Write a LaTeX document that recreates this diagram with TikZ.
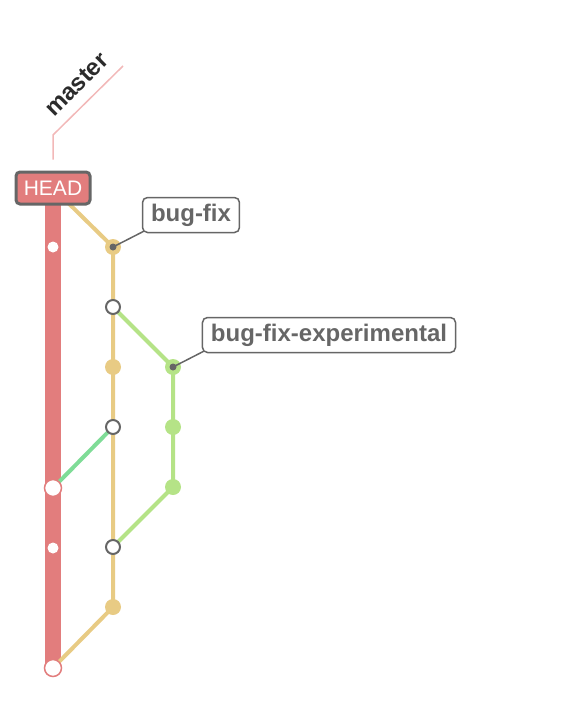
\documentclass[tikz,border=0pt]{standalone}
\usepackage{fontspec}
\setmainfont{Liberation Sans}
\usetikzlibrary{backgrounds}
\definecolor{masterred}{HTML}{E27D7D}
\definecolor{pinkline}{HTML}{F2B8B8}
\definecolor{fixyellow}{HTML}{E8CB84}
\definecolor{expgreen}{HTML}{B5E387}
\definecolor{mergegreen}{HTML}{7FDC97}
\definecolor{outline}{HTML}{666666}
\definecolor{labeltext}{HTML}{2B2B2B}
\tikzset{
  headbox/.style={draw=outline, line width=3pt, fill=masterred, rounded corners=4pt,
    text=white, font=\fontsize{21}{21}\selectfont, minimum width=74pt, minimum height=32pt, inner sep=0pt},
  tagbox/.style={draw=outline, line width=1.5pt, fill=white, rounded corners=5pt,
    text=outline, font=\bfseries\fontsize{24}{24}\selectfont, minimum height=35pt, inner xsep=8.5pt, inner ysep=0pt},
  taglink/.style={draw=outline, line width=1.5pt},
  mdot/.style={circle, fill=white, minimum size=11pt, inner sep=0pt},
  mcommit/.style={circle, fill=white, draw=masterred, line width=1.5pt, minimum size=17pt, inner sep=0pt},
  opencommit/.style={circle, fill=white, draw=outline, line width=2pt, minimum size=14pt, inner sep=0pt},
  ycommit/.style={circle, fill=fixyellow, minimum size=16pt, inner sep=0pt},
  gcommit/.style={circle, fill=expgreen, minimum size=16pt, inner sep=0pt},
  tagdot/.style={circle, fill=outline, minimum size=7pt, inner sep=0pt},
  masterlane/.style={draw=masterred, line width=16pt},
  fixlane/.style={draw=fixyellow, line width=4pt},
  explane/.style={draw=expgreen, line width=4pt},
  mergelane/.style={draw=mergegreen, line width=4pt},
}
\begin{document}
\begin{tikzpicture}[x=1pt, y=-1pt]
\useasboundingbox (0,0) rectangle (584,717);

% master commits
\node[mdot] (m1) at (53,247) {};
\node[mcommit] (m2) at (53,488) {};
\node[mdot] (m3) at (53,548) {};
\node[mcommit] (m4) at (53,668) {};

% bug-fix commits
\node[ycommit] (b1) at (113,247) {};
\node[tagdot] (b1tag) at (b1) {};
\node[opencommit] (b2) at (113,307) {};
\node[ycommit] (b3) at (113,367) {};
\node[opencommit] (b4) at (113,427) {};
\node[opencommit] (b5) at (113,547) {};
\node[ycommit] (b6) at (113,607) {};

% bug-fix-experimental commits
\node[gcommit] (e1) at (173,367) {};
\node[tagdot] (e1tag) at (e1) {};
\node[gcommit] (e2) at (173,427) {};
\node[gcommit] (e3) at (173,487) {};

% HEAD and branch labels
\node[headbox] (head) at (53,188) {HEAD};
\node[tagbox] (tfix) at (191,215) {bug-fix};
\node[tagbox] (texp) at (329,335) {bug-fix-experimental};
\node[rotate=45, anchor=base west, inner sep=0pt, text=labeltext, font=\bfseries\fontsize{24}{24}\selectfont] (mlabel) at (54,118) {master};

\coordinate (mbend) at (53,135);
\coordinate (mtip) at (123,66);

\begin{scope}[on background layer]
  \draw[masterlane] (head.center) -- (m4.center);
  \draw[fixlane] (head.center) -- (b1.center) -- (b6.center) -- (m4.center);
  \draw[explane] (b2.center) -- (e1.center) -- (e3.center) -- (b5.center);
  \draw[mergelane] (b4.center) -- (m2.center);
  \draw[pinkline, line width=1.5pt] ([yshift=11pt]head.north) -- (mbend) -- (mtip);
\end{scope}

% tag pointers
\draw[taglink] (b1tag.center) -- ([shift={(2pt,2pt)}]tfix.south west);
\draw[taglink] (e1tag.center) -- ([shift={(2pt,2pt)}]texp.south west);
\end{tikzpicture}
\end{document}
